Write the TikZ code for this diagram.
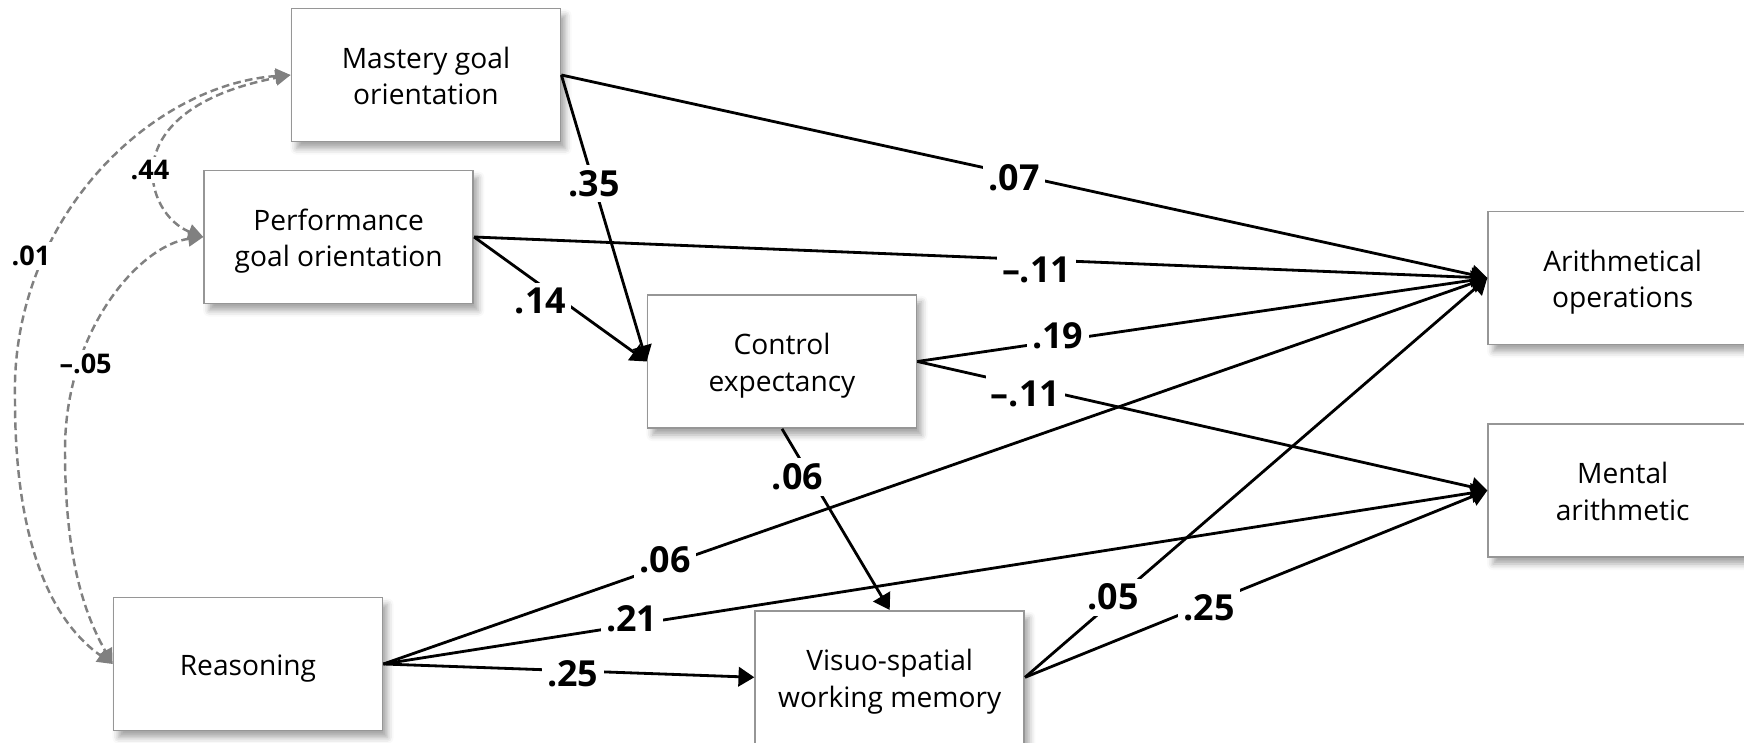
\documentclass[tikz,border=0pt]{standalone}
\usepackage{fontspec}
\setmainfont{Open Sans}
\usetikzlibrary{arrows.meta,shadows.blur}
\definecolor{boxline}{RGB}{150,150,150}
\definecolor{covgray}{RGB}{128,128,128}
% centred lines of a variable box, set on struts and lowered a little
\newcommand\boxtext[1]{\raisebox{-1.2pt}[\height][\depth]{%
  \begin{tabular}{@{}c@{}}#1\end{tabular}}}
\begin{document}
\begin{tikzpicture}[x=0.01cm,y=-0.01cm,
  var/.style={draw=boxline, line width=0.45pt, fill=white,
    minimum width=2.69cm, minimum height=1.33cm, inner sep=0pt,
    font=\fontsize{8pt}{10.4pt}\selectfont,
    blur shadow={shadow xshift=0.05cm, shadow yshift=-0.07cm,
      shadow blur radius=0.06cm, shadow opacity=35}},
  effect/.style={line width=0.8pt, -{Triangle[length=4.5pt,width=5.5pt]}},
  cov/.style={covgray, line width=0.7pt, dash pattern=on 2.2pt off 1.2pt,
    {Triangle[length=4.3pt,width=4.3pt]}-{Triangle[length=4.3pt,width=4.3pt]}},
  coef/.style={fill=white, inner sep=1.5pt,
    font=\fontsize{10.2pt}{12pt}\selectfont\bfseries},
  covcoef/.style={fill=white, inner sep=1pt,
    font=\fontsize{7.7pt}{9pt}\selectfont\bfseries},
]
\useasboundingbox (0,0) rectangle (1744,743);

% variables
\node[var] (mast) at (426,75)      {\boxtext{Mastery goal\\orientation}};
\node[var] (perf) at (338.7,237)   {\boxtext{Performance\\goal orientation}};
\node[var] (ctrl) at (782,361.5)   {\boxtext{Control\\expectancy}};
\node[var] (reas) at (248,664)     {\boxtext{Reasoning}};
\node[var] (visu) at (889.7,677.3) {\boxtext{Visuo-spatial\\working memory}};
\node[var] (arit) at (1622.7,278)  {\boxtext{Arithmetical\\operations}};
\node[var] (ment) at (1622.7,490.5){\boxtext{Mental\\arithmetic}};

% directed paths
\draw[effect] (mast.east) -- (arit.west);
\draw[effect] (mast.east) -- (ctrl.west);
\draw[effect] (perf.east) -- (arit.west);
\draw[effect] (perf.east) -- (ctrl.west);
\draw[effect] (ctrl.east) -- (arit.west);
\draw[effect] (ctrl.east) -- (ment.west);
\draw[effect] (ctrl.south) -- (visu.north);
\draw[effect] (reas.east) -- (arit.west);
\draw[effect] (reas.east) -- (ment.west);
\draw[effect] (reas.east) -- (visu.west);
\draw[effect] (visu.east) -- (arit.west);
\draw[effect] (visu.east) -- (ment.west);

% covariances
\draw[cov] (perf.west) .. controls (145,215) and (110,110) .. (mast.west);
\draw[cov] (mast.west) .. controls (150,85) and (10,220) .. (15,400)
           .. controls (15,540) and (50,620) .. (reas.west);
\draw[cov] (perf.west) .. controls (140,245) and (65,330) .. (65,450)
           .. controls (65,560) and (85,615) .. (reas.west);

% coefficients
\node[coef] (c07)  at (1014,178)    {.07};
\node[coef] (c35)  at (594,183.5)   {.35};
\node[coef] (c11a) at (1036.6,270)  {–.11};
\node[coef] (c14)  at (540.5,301.4) {.14};
\node[coef] (c19)  at (1057.7,335.9){.19};
\node[coef] (c11b) at (1025.5,393.7){–.11};
\node[coef] (c06a) at (797.5,477)   {.06};
\node[coef] (c06b) at (665,559.4)   {.06};
\node[coef] (c21)  at (631.7,618.4) {.21};
\node[coef] (c25a) at (572.8,674)   {.25};
\node[coef] (c05)  at (1113.3,597.2){.05};
\node[coef] (c25b) at (1209,607.3)  {.25};
\node[covcoef] (k44) at (150,170)   {.44};
\node[covcoef] (k01) at (31,256)    {.01};
\node[covcoef] (k05) at (85.6,363.7){–.05};
\end{tikzpicture}
\end{document}
